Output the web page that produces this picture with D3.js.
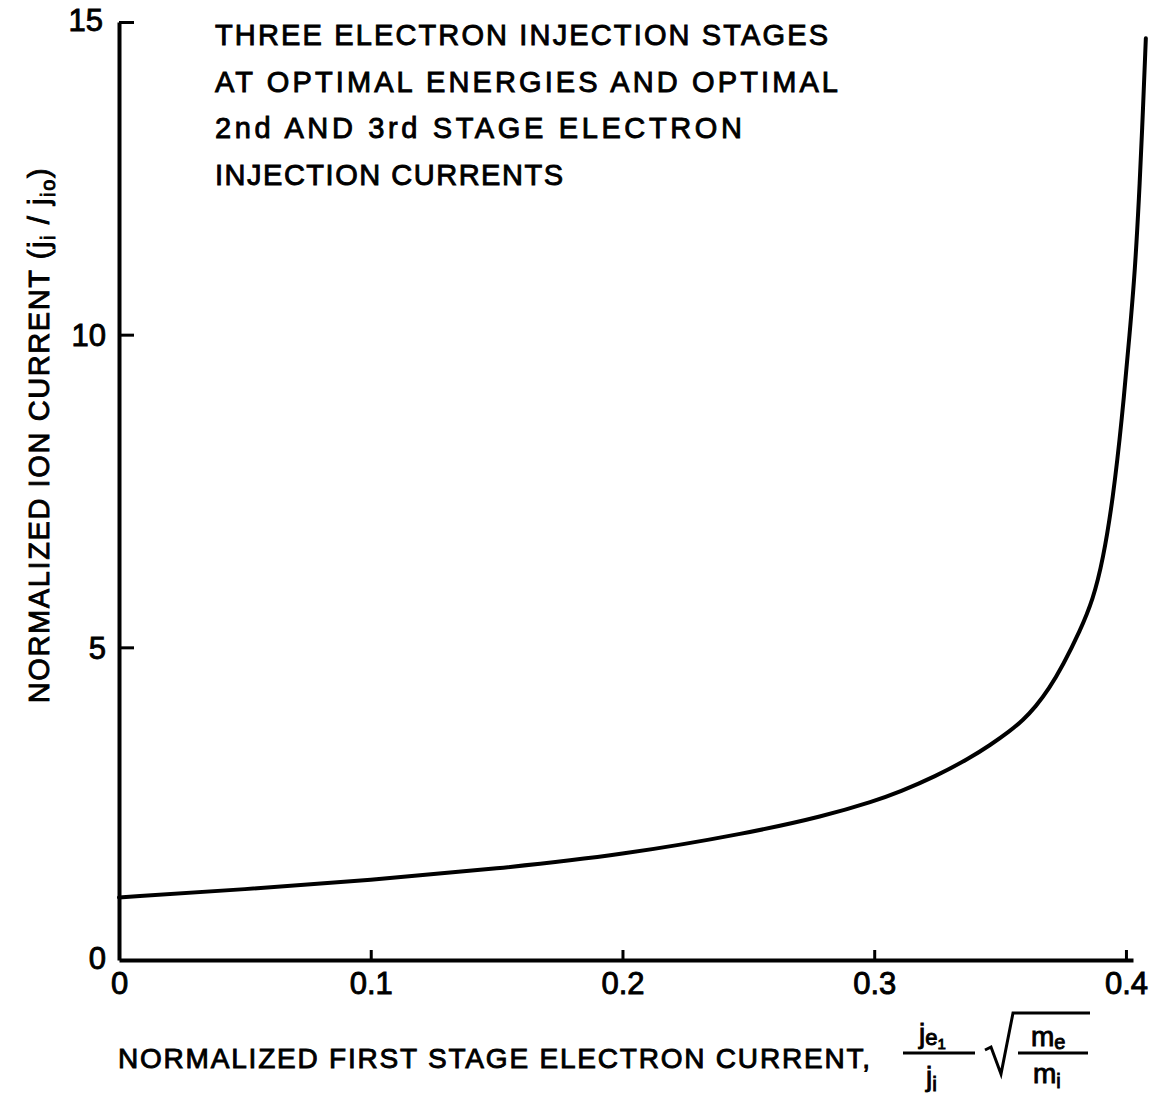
<!DOCTYPE html>
<html>
<head>
<meta charset="utf-8">
<script src="https://cdn.jsdelivr.net/npm/d3@7"></script>
<style>
  html, body { margin: 0; padding: 0; background: #fff; }
  svg { display: block; }
  text { font-family: "Liberation Sans", Arial, sans-serif; fill: #000; stroke: #000; stroke-width: 0.9px; }
</style>
</head>
<body>
<svg id="chart" width="1161" height="1096"></svg>
<script>
// ---- data ----
const xValues = [0, 0.05, 0.1, 0.15, 0.2, 0.25, 0.28, 0.30, 0.3102, 0.3241, 0.338, 0.346, 0.3539, 0.3591, 0.3642, 0.3694, 0.375, 0.3817, 0.3869, 0.3909, 0.3948, 0.3984, 0.4016, 0.4036, 0.4052, 0.4064, 0.4079];
const yValues = [1.0, 1.13, 1.28, 1.46, 1.68, 2.03, 2.30, 2.54, 2.69, 2.93, 3.23, 3.435, 3.66, 3.835, 4.054, 4.334, 4.715, 5.258, 5.76, 6.40, 7.36, 8.64, 10.07, 11.03, 12.20, 13.23, 14.74];
const xTicks = [0, 0.1, 0.2, 0.3, 0.4];
const xTickLabels = ["0", "0.1", "0.2", "0.3", "0.4"];
const yTicks = [0, 5, 10, 15];
const yTickLabels = ["0", "5", "10", "15"];
const noteLines = [
  "THREE ELECTRON INJECTION STAGES",
  "AT OPTIMAL ENERGIES AND OPTIMAL",
  "2nd AND 3rd STAGE ELECTRON",
  "INJECTION CURRENTS"
];
const xAxisTitle = "NORMALIZED FIRST STAGE  ELECTRON CURRENT,";

// ---- layout ----
const svg = d3.select("#chart");
const x = d3.scaleLinear().domain([0, 0.4028]).range([119, 1133]);
const y = d3.scaleLinear().domain([0, 15]).range([960, 22]);
const tickFont = "'Liberation Sans', sans-serif";

// x axis
const xAxis = d3.axisBottom(x)
  .tickValues(xTicks)
  .tickFormat((d, i) => xTickLabels[i])
  .tickSizeInner(-10)
  .tickSizeOuter(0)
  .tickPadding(12);
const gx = svg.append("g").attr("transform", `translate(0,${y(0)})`).call(xAxis);
gx.select(".domain").attr("stroke", "#000").attr("stroke-width", 4);
gx.selectAll(".tick line").attr("stroke", "#000").attr("stroke-width", 3)
  .attr("display", d => d === 0 ? "none" : null);
gx.selectAll(".tick text").attr("font-size", 31).attr("font-family", tickFont);

// y axis
const yAxis = d3.axisLeft(y)
  .tickValues(yTicks)
  .tickFormat((d, i) => yTickLabels[i])
  .tickSizeInner(-15)
  .tickSizeOuter(0)
  .tickPadding(13);
const gy = svg.append("g").attr("transform", `translate(${x(0)},0)`).call(yAxis);
gy.select(".domain").attr("stroke", "#000").attr("stroke-width", 4);
gy.selectAll(".tick line").attr("stroke", "#000").attr("stroke-width", 3)
  .attr("display", d => d === 0 ? "none" : null);
gy.selectAll(".tick text").attr("font-size", 31).attr("font-family", tickFont)
  .attr("dy", d => d === 0 ? "0.28em" : (d === 15 ? "0.28em" : "0.35em"))
  .attr("dx", d => d === 15 ? -3 : 0);

// curve
const line = d3.line()
  .x((d, i) => x(xValues[i]))
  .y((d, i) => y(yValues[i]))
  .curve(d3.curveBasis);
svg.append("path")
  .datum(yValues)
  .attr("d", line)
  .attr("fill", "none")
  .attr("stroke", "#000")
  .attr("stroke-width", 4)
  .attr("stroke-linecap", "round")
  .attr("stroke-linejoin", "round");

// annotation
const noteWidths = [613, 623, 527, 348];
const noteBase = [45, 92, 138, 185];
noteLines.forEach((t, i) => {
  svg.append("text")
    .attr("x", 215).attr("y", noteBase[i])
    .attr("font-size", 29)
    .attr("textLength", noteWidths[i])
    .attr("lengthAdjust", "spacing")
    .text(t);
});

// y axis title
const yt = svg.append("text")
  .attr("transform", "translate(49,435) rotate(-90)")
  .attr("text-anchor", "middle")
  .attr("font-size", 29)
  .attr("letter-spacing", 1.6);
yt.append("tspan").text("NORMALIZED  ION  CURRENT (");
yt.append("tspan").text("j");
yt.append("tspan").attr("font-size", 20).attr("dy", 6).text("i");
yt.append("tspan").attr("dy", -6).text(" / ");
yt.append("tspan").text("j");
yt.append("tspan").attr("font-size", 20).attr("dy", 6).text("io");
yt.append("tspan").attr("dy", -6).text(")");

// x axis title
svg.append("text")
  .attr("x", 118).attr("y", 1068)
  .attr("font-size", 28)
  .attr("textLength", 752)
  .attr("lengthAdjust", "spacing")
  .text(xAxisTitle);

// fraction j_e1 / j_i
const fr = svg.append("g");
fr.append("line").attr("x1", 903).attr("x2", 975).attr("y1", 1053).attr("y2", 1053)
  .attr("stroke", "#000").attr("stroke-width", 3);
const num1 = fr.append("text").attr("x", 919).attr("y", 1043).attr("font-size", 28);
num1.append("tspan").text("j");
num1.append("tspan").attr("font-size", 22).attr("dy", 2).text("e");
num1.append("tspan").attr("font-size", 15).attr("dy", 4).text("1");
const den1 = fr.append("text").attr("x", 926).attr("y", 1086).attr("font-size", 28);
den1.append("tspan").text("j");
den1.append("tspan").attr("font-size", 21).attr("dy", 5).text("i");

// square root
fr.append("path")
  .attr("d", "M985,1050 L991,1047 L1001,1074 L1013,1013 L1090,1013")
  .attr("fill", "none").attr("stroke", "#000").attr("stroke-width", 3)
  .attr("stroke-linejoin", "miter");
fr.append("line").attr("x1", 1018).attr("x2", 1088).attr("y1", 1053).attr("y2", 1053)
  .attr("stroke", "#000").attr("stroke-width", 3);
const num2 = fr.append("text").attr("x", 1031).attr("y", 1046).attr("font-size", 28);
num2.append("tspan").text("m");
num2.append("tspan").attr("font-size", 20).attr("dy", 3).text("e");
const den2 = fr.append("text").attr("x", 1033).attr("y", 1083).attr("font-size", 28);
den2.append("tspan").text("m");
den2.append("tspan").attr("font-size", 20).attr("dy", 5).text("i");
</script>
</body>
</html>
